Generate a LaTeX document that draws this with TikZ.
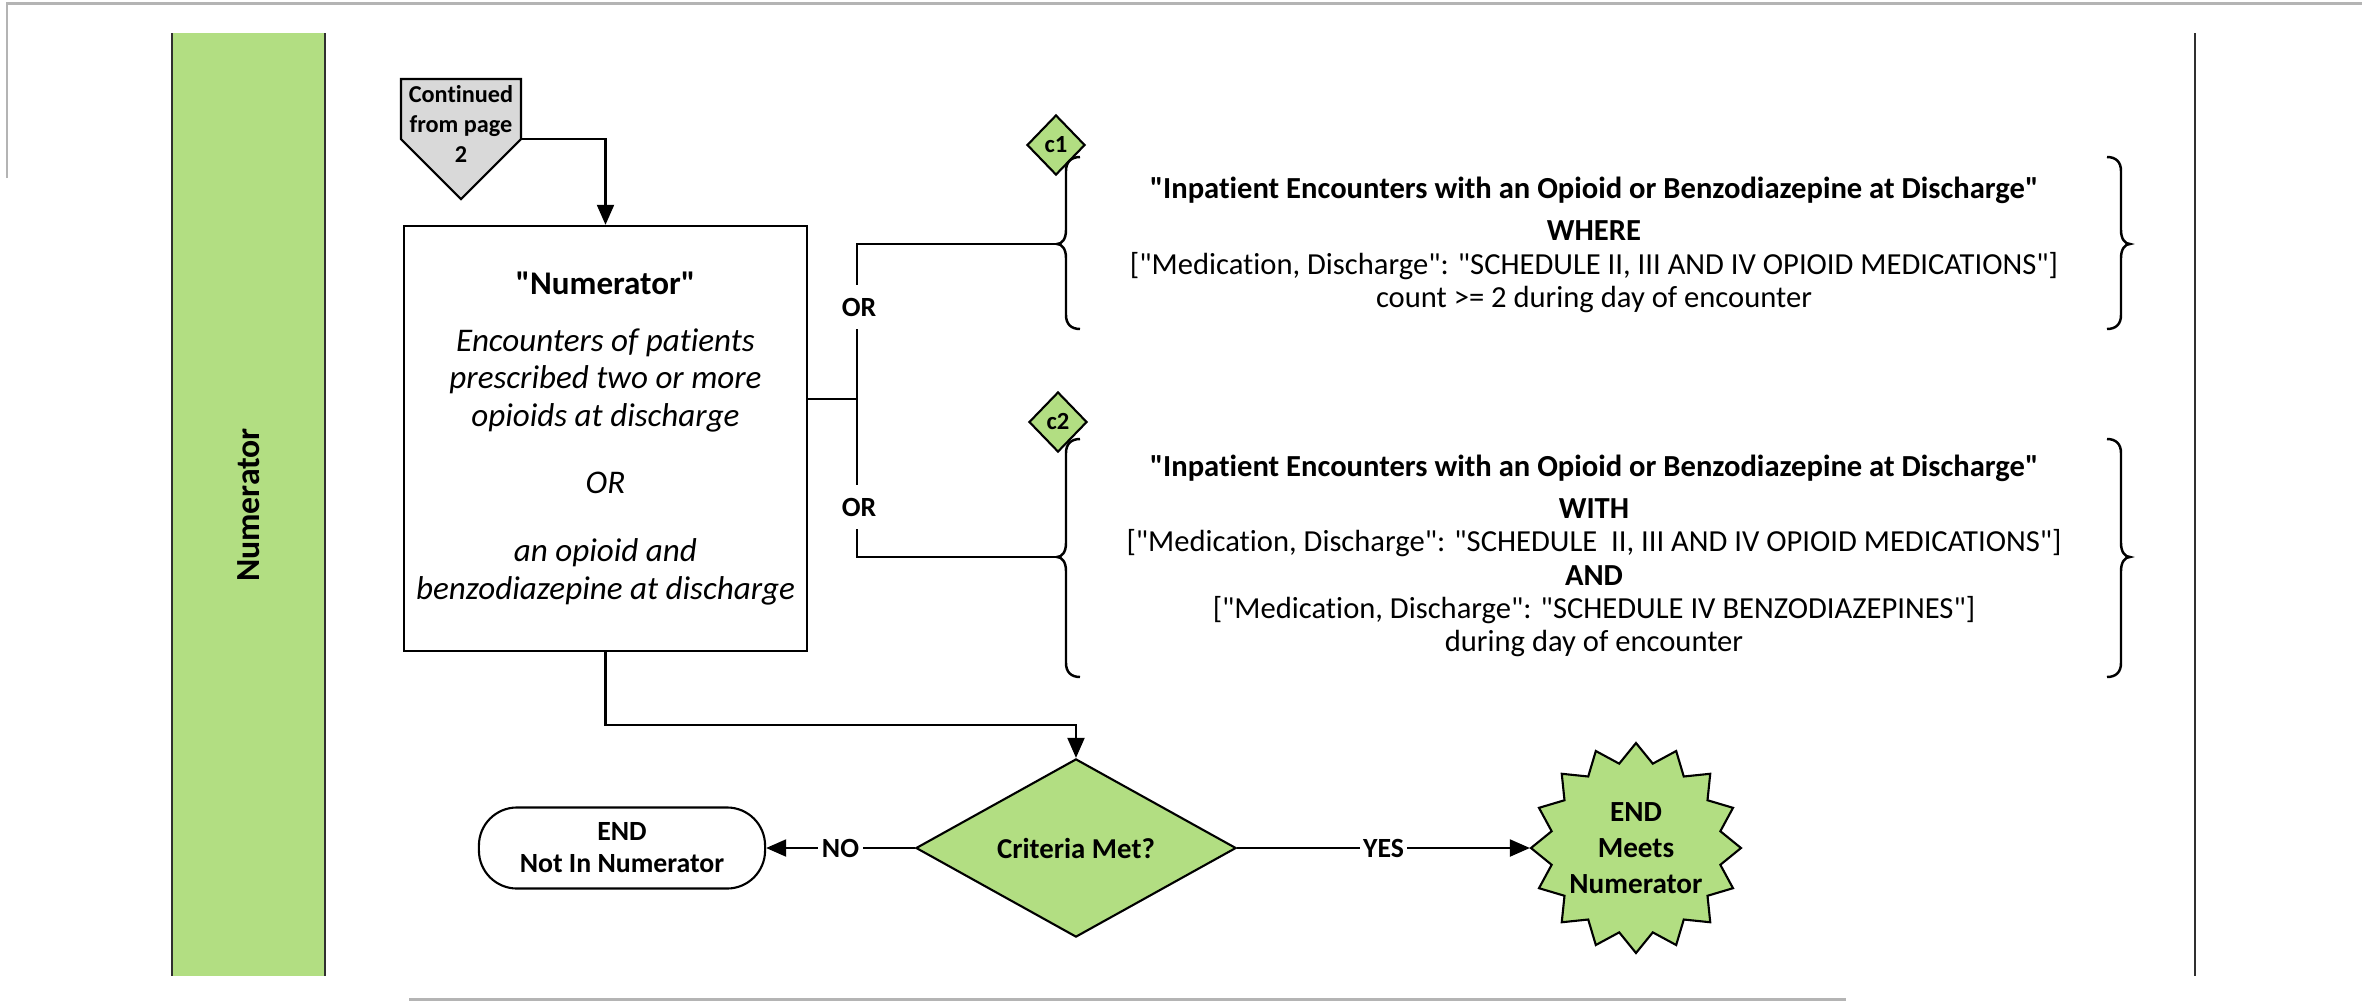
\documentclass[tikz,border=0pt]{standalone}
\usepackage{fontspec}
\setmainfont{Carlito}[Ligatures={TeXOff,CommonOff}]
\usetikzlibrary{shapes.geometric,arrows.meta,calc}
\definecolor{lgreen}{HTML}{B2DE82}
\definecolor{pgray}{HTML}{D9D9D9}
\definecolor{bordergray}{HTML}{B4B4B4}
\definecolor{lanegray}{HTML}{303030}
\newcommand{\mybraceL}[4]{%
 \draw[brc] ({#1+14},#2) .. controls ({#1+5},#2) and (#1,{#2+5}) .. (#1,{#2+14}) -- (#1,{#3-14})
  .. controls (#1,{#3-5}) and ({#1-4},#3) .. ({#1-9},#3)
  .. controls ({#1-4},#3) and (#1,{#3+5}) .. (#1,{#3+14}) -- (#1,{#4-14})
  .. controls (#1,{#4-5}) and ({#1+5},#4) .. ({#1+14},#4);}
\newcommand{\mybraceR}[4]{%
 \draw[brc] ({#1-14},#2) .. controls ({#1-5},#2) and (#1,{#2+5}) .. (#1,{#2+14}) -- (#1,{#3-14})
  .. controls (#1,{#3-5}) and ({#1+4},#3) .. ({#1+9},#3)
  .. controls ({#1+4},#3) and (#1,{#3+5}) .. (#1,{#3+14}) -- (#1,{#4-14})
  .. controls (#1,{#4-5}) and ({#1-5},#4) .. ({#1-14},#4);}
\begin{document}
\begin{tikzpicture}[x=0.01cm,y=-0.01cm,line width=0.6pt,
  brc/.style={line width=0.7pt},
  arr/.style={-{Triangle[length=0.2cm,width=0.17cm]}},
  txt/.style={font=\fontsize{8.7}{9.5}\selectfont,align=center,inner sep=0},
  lab/.style={fill=white,inner sep=1pt,font=\bfseries\fontsize{7.9}{9}\selectfont},
  orlab/.style={inner xsep=2pt,inner ysep=0.12cm,font=\bfseries\fontsize{7.9}{9}\selectfont},
  cdiam/.style={diamond,draw,fill=lgreen,minimum width=0.58cm,minimum height=0.6cm,inner sep=0,font=\bfseries\fontsize{7}{8}\selectfont}]
\useasboundingbox (0,0) rectangle (2362,1002);
% page borders
\draw[bordergray,line width=0.85pt] (7,178) -- (7,3) -- (2362,3);
\draw[bordergray,line width=0.85pt] (409,999) -- (1846,999);
% lane
\fill[lgreen] (172,33) rectangle (325,976);
\draw[lanegray] (172,33) -- (172,976) (325,33) -- (325,976);
\node[rotate=90,font=\bfseries\fontsize{9.6}{11}\selectfont] (lanelbl) at (249,505) {Numerator};
\draw[lanegray] (2195,33) -- (2195,976);
% off-page connector
\draw[fill=pgray] (401,79) -- (521,79) -- (521,139) -- (461,199) -- (401,139) -- cycle;
\node[align=center,inner sep=0,font=\bfseries\fontsize{6.9}{8.5}\selectfont] (cont) at (461,124) {Continued\\from page\\2};
\coordinate (contr) at (521,139);
% numerator box
\node[draw,minimum width=4.03cm,minimum height=4.25cm,inner sep=0,align=center,font=\fontsize{9.4}{10.7}\selectfont] (box) at (605.5,438.5)
 {\textbf{"Numerator"}\\[5.4pt] \textit{Encounters of patients}\\ \textit{prescribed two or more}\\ \textit{opioids at discharge}\\[8.3pt] \textit{OR}\\[8.8pt] \textit{an opioid and}\\ \textit{benzodiazepine at discharge}};
\draw[arr] (contr) -| (box.north);
% c1, c2 and braces
\node[cdiam] (c1) at (1056,145) {c1};
\node[cdiam] (c2) at (1058,422) {c2};
\mybraceL{1066}{157}{244}{329}
\mybraceR{2121}{157}{244}{329}
\mybraceL{1066}{439}{557}{677}
\mybraceR{2121}{439}{557}{677}
\coordinate (cusp1) at (1057,244);
\coordinate (cusp2) at (1057,557);
\node[txt] (t1) at (1594,245) {\textbf{"Inpatient Encounters with an Opioid or Benzodiazepine at Discharge"}\\[2.4pt]
 \textbf{WHERE}\\ {[}"Medication, Discharge": "SCHEDULE II, III AND IV OPIOID MEDICATIONS"]\\ count >= 2 during day of encounter};
\node[txt] (t2) at (1594,556) {\textbf{"Inpatient Encounters with an Opioid or Benzodiazepine at Discharge"}\\[2.4pt]
 \textbf{WITH}\\ {[}"Medication, Discharge": "SCHEDULE\ \ II, III AND IV OPIOID MEDICATIONS"]\\ \textbf{AND}\\
 {[}"Medication, Discharge": "SCHEDULE IV BENZODIAZEPINES"]\\ during day of encounter};
% OR junction
\coordinate (j) at (857,399);
\node[orlab] (or1) at (859,307) {OR};
\node[orlab] (or2) at (859,507) {OR};
\draw (cusp1) -| (or1.north -| j);
\draw (or1.south -| j) -- (or2.north -| j);
\draw (or2.south -| j) |- (cusp2);
\draw (box.east |- j) -- (j);
% decision
\node[diamond,draw,fill=lgreen,minimum width=3.2cm,minimum height=1.52cm,inner sep=0,font=\bfseries\fontsize{8.2}{9}\selectfont] (crit) at (1076,848) {Criteria Met?};
\coordinate (bend) at (605.5,725);
\draw[arr] (box.south) -- (bend) -| (crit.north);
\node[draw,rounded corners=0.38cm,minimum width=2.86cm,minimum height=0.81cm,align=center,font=\bfseries\fontsize{7.9}{9.1}\selectfont] (endno) at (622,848) {END\\Not In Numerator};
\draw[fill=lgreen] plot[samples at={0,...,31},variable=\k] ({1636+(105-19*mod(\k,2))*cos(\k*11.25)},{848+(105-19*mod(\k,2))*sin(\k*11.25)}) -- cycle;
\node[circle,minimum size=2.1cm,inner sep=0,align=center,font=\bfseries\fontsize{8.3}{10.2}\selectfont] (meets) at (1636,848) {END\\Meets\\Numerator};
\draw[arr] (crit.west) -- node[lab]{NO} (endno.east);
\draw[arr] (crit.east) -- node[lab]{YES} (meets.west);
\end{tikzpicture}
\end{document}
